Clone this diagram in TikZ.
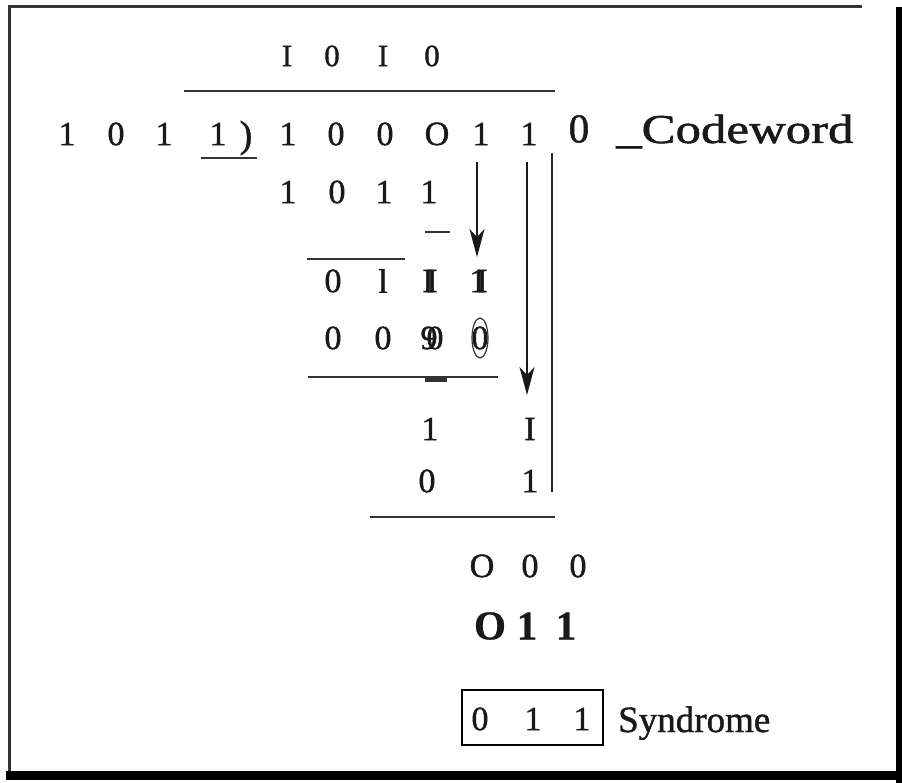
\documentclass[tikz,border=0pt]{standalone}
\usepackage{fontspec}
\setmainfont{Liberation Serif}
\newfontfamily\hv{Liberation Serif}[FakeBold=1.2]
\newfontfamily\hvb{Liberation Serif Bold}[FakeBold=0.6]
\usetikzlibrary{arrows.meta}
\begin{document}
\begin{tikzpicture}[x=1pt,y=-1pt,
  dig/.style={inner sep=0pt, font=\hv\fontsize{34}{34}\selectfont, text=black!90},
  qd/.style={inner sep=0pt, font=\hv\fontsize{31}{31}\selectfont, text=black!90},
  bd/.style={inner sep=0pt, font=\hvb\fontsize{41}{41}\selectfont, text=black!90},
  lbl/.style={inner sep=0pt, anchor=base west, text=black!90},
  rule/.style={line width=2.2pt, black!80},
  arr/.style={line width=2.2pt, black!90, -{Stealth[length=28pt,width=15pt,inset=8pt]}}]
\useasboundingbox (0,0) rectangle (902,783);
% frame
\draw[black!80, line width=3pt] (8,7) -- (862,7);
\draw[black!80, line width=3pt] (9,6) -- (9,772);
\draw[line width=6pt] (899,7) -- (899,783);
\draw[line width=9pt] (6,775) -- (902,775);
% quotient
\node[qd] (q1) at (287,56) {I};
\node[qd] (q2) at (332,56) {0};
\node[qd] (q3) at (383,56) {I};
\node[qd] (q4) at (432,56) {0};
\draw[rule] (184,91) -- (555,91);
% divisor
\node[dig] (v1) at (67,134) {1};
\node[dig] (v2) at (116,134) {0};
\node[dig] (v3) at (164,134) {1};
\node[dig] (v4) at (218,134) {1};
\node[dig, font=\hv\fontsize{38}{38}\selectfont] (v5) at (246,138) {)};
\draw[rule] (201,158) -- (257,158);
% dividend
\node[dig] (d1) at (288,134) {1};
\node[dig] (d2) at (336,134) {0};
\node[dig] (d3) at (385,134) {0};
\node[dig] (d4) at (437,134) {O};
\node[dig] (d5) at (481,134) {1};
\node[dig] (d6) at (529,134) {1};
\node[inner sep=0pt, font=\hv\fontsize{41}{41}\selectfont, text=black!90] (cz) at (579,129) {0};
\node[lbl, font=\hv\fontsize{41}{41}\selectfont, xscale=1.24] (cw) at (616,143) {\_Codeword};
% row 2
\node[dig] (r21) at (288,192) {1};
\node[dig] (r22) at (337,192) {0};
\node[dig] (r23) at (384,192) {1};
\node[dig] (r24) at (429,192) {1};
\coordinate (ds1) at (425,232);
\coordinate (ds2) at (450,232);
\draw[rule] (ds1) -- (ds2);
\draw[rule] (307,259) -- (405,259);
% row 3
\node[dig] (r31) at (333,281) {0};
\node[dig] (r32) at (383,281) {l};
\node[dig] (r33a) at (428,281) {I};
\node[dig] (r33b) at (432,281) {I};
\node[dig] (r34a) at (478,281) {1};
\node[dig] (r34b) at (482,281) {I};
% row 4
\node[dig] (r41) at (333,338) {0};
\node[dig] (r42) at (383,338) {0};
\node[dig] (r43a) at (429,338) {9};
\node[dig] (r43b) at (435,338) {0};
\node[dig] (r44) at (480,338) {0};
\draw[black!80, line width=1.2pt] (r44) ellipse [x radius=8, y radius=20];
\draw[rule] (308,377) -- (498,377);
\draw[black!80, line width=3.5pt] (425,380) -- (447,380);
% rows 5, 6
\node[dig] (r51) at (430,429) {1};
\node[dig] (r52) at (530,429) {I};
\node[dig] (r61) at (427,481) {0};
\node[dig] (r62) at (530,481) {1};
\draw[rule] (370,517) -- (555,517);
% row 7
\node[dig] (r71) at (482,566) {O};
\node[dig] (r72) at (530,566) {0};
\node[dig] (r73) at (578,566) {0};
% row 8
\node[bd] (r81) at (490,626) {O};
\node[bd] (r82) at (527,626) {1};
\node[bd] (r83) at (566,626) {1};
% syndrome
\node[draw, line width=2pt, minimum width=141pt, minimum height=55pt, inner sep=0pt] (box) at (532.5,717.5) {};
\node[dig] (s1) at (480,719) {0};
\node[dig] (s2) at (533,719) {1};
\node[dig] (s3) at (582,719) {1};
\node[lbl, font=\hv\fontsize{37}{37}\selectfont] (syn) at (618,732) {Syndrome};
% arrows and vertical line
\coordinate (a1s) at (477,162);
\coordinate (a1e) at (477,257);
\coordinate (a2s) at (527,162);
\coordinate (a2e) at (527,395);
\coordinate (vl1) at (552,153);
\coordinate (vl2) at (552,492);
\draw[arr] (a1s) -- (a1e);
\draw[arr, line width=1.5pt] (a2s) -- (a2e);
\draw[line width=2.5pt, black!85] (vl1) -- (vl2);
\end{tikzpicture}
\end{document}
